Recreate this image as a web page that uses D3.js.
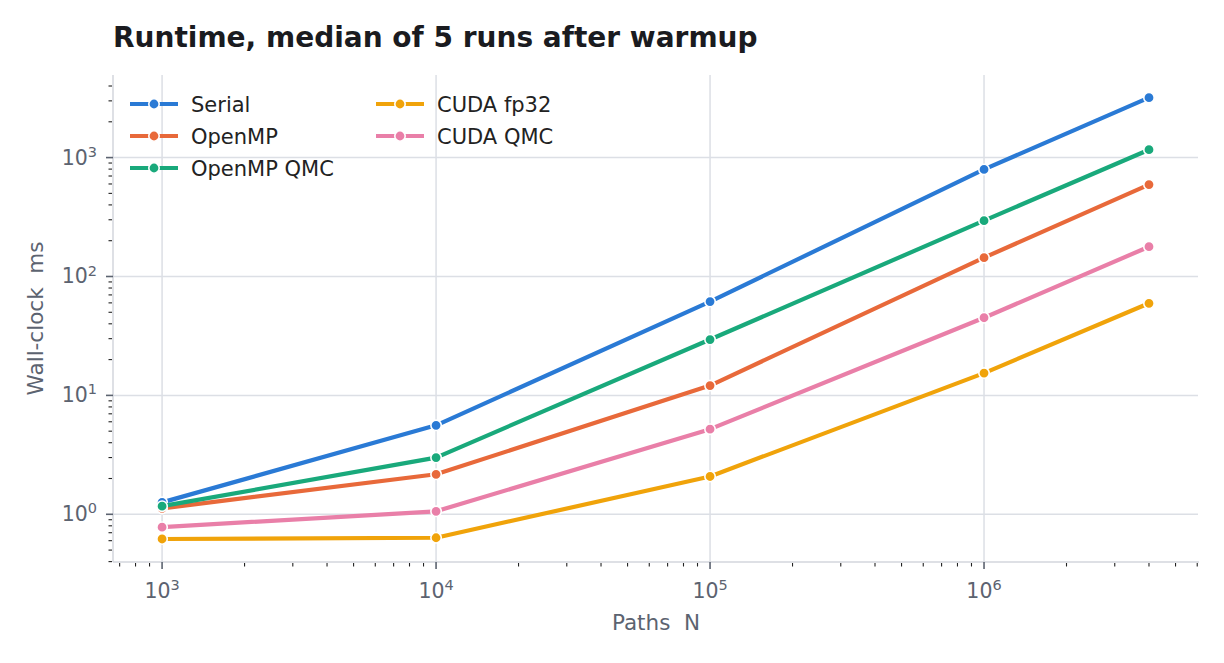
<!DOCTYPE html>
<html>
<head>
<meta charset="utf-8">
<script src="https://cdn.jsdelivr.net/npm/d3@7"></script>
<style>
  body { margin: 0; background: #fff; }
  text { font-family: "DejaVu Sans", sans-serif; }
</style>
</head>
<body>
<script>
// values (ms)
const paths = [1e3, 1e4, 1e5, 1e6, 4e6];
const seriesNames = ["Serial", "OpenMP", "OpenMP QMC", "CUDA fp32", "CUDA QMC"];
const serial = [1.26, 5.6, 61.5, 795, 3190];
const openmp = [1.12, 2.17, 12.1, 144, 593];
const openmpQmc = [1.17, 3.0, 29.5, 295, 1165];
const cudaFp32 = [0.62, 0.635, 2.08, 15.4, 59.5];
const cudaQmc = [0.78, 1.06, 5.2, 45, 178];
const colors = ["#2a7ad5", "#e8693a", "#19a97b", "#f0a30a", "#e97fa8"];
const xMajor = [1e3, 1e4, 1e5, 1e6];
const yMajor = [1, 10, 100, 1000];

const allSeries = [serial, openmp, openmpQmc, cudaFp32, cudaQmc];

const width = 1224, height = 663;
const margin = {top: 75, right: 25, bottom: 101, left: 113};

const svg = d3.select("body").append("svg")
    .attr("width", width)
    .attr("height", height);

const x = d3.scaleLog()
    .domain([662, 6.09e6])
    .range([margin.left, width - margin.right]);

const y = d3.scaleLog()
    .domain([0.397, 4950])
    .range([height - margin.bottom, margin.top]);

const gridColor = "#dcdfe5";
const tickText = "#5c6370";

// grid
svg.append("g").selectAll("line.gx")
    .data(xMajor).enter().append("line")
    .attr("x1", d => x(d)).attr("x2", d => x(d))
    .attr("y1", y.range()[1]).attr("y2", y.range()[0])
    .style("stroke", gridColor).style("stroke-width", 1.5);

svg.append("g").selectAll("line.gy")
    .data(yMajor).enter().append("line")
    .attr("x1", x.range()[0]).attr("x2", x.range()[1] - 1)
    .attr("y1", d => y(d)).attr("y2", d => y(d))
    .style("stroke", gridColor).style("stroke-width", 1.5);

// minor ticks
const minorX = [];
for (let e = 2; e <= 6; e++) for (let m = 2; m <= 9; m++) {
    const v = m * Math.pow(10, e);
    if (v >= x.domain()[0] && v <= x.domain()[1]) minorX.push(v);
}
const minorY = [];
for (let e = -1; e <= 3; e++) for (let m = 2; m <= 9; m++) {
    const v = m * Math.pow(10, e);
    if (v >= y.domain()[0] && v <= y.domain()[1]) minorY.push(v);
}

const x0 = y.range()[0];
const yAxisX = x.range()[0];

// spines
svg.append("line")
    .attr("x1", yAxisX).attr("x2", yAxisX)
    .attr("y1", margin.top).attr("y2", x0)
    .style("stroke", "#d3d6dd").style("stroke-width", 1.5);
svg.append("line")
    .attr("x1", yAxisX).attr("x2", x.range()[1])
    .attr("y1", x0).attr("y2", x0)
    .style("stroke", "#d3d6dd").style("stroke-width", 1.5);

svg.append("g").selectAll("line")
    .data(minorX).enter().append("line")
    .attr("x1", d => x(d)).attr("x2", d => x(d))
    .attr("y1", x0 + 1).attr("y2", x0 + 4.5)
    .style("stroke", "#222").style("stroke-width", 1.1);
svg.append("g").selectAll("line")
    .data(minorY).enter().append("line")
    .attr("y1", d => y(d)).attr("y2", d => y(d))
    .attr("x1", yAxisX - 1).attr("x2", yAxisX - 4.5)
    .style("stroke", "#222").style("stroke-width", 1.1);

// major ticks
svg.append("g").selectAll("line")
    .data(xMajor).enter().append("line")
    .attr("x1", d => x(d)).attr("x2", d => x(d))
    .attr("y1", x0).attr("y2", x0 + 7)
    .style("stroke", "#5c6370").style("stroke-width", 1.6);
svg.append("g").selectAll("line")
    .data(yMajor).enter().append("line")
    .attr("y1", d => y(d)).attr("y2", d => y(d))
    .attr("x1", yAxisX).attr("x2", yAxisX - 7)
    .style("stroke", "#5c6370").style("stroke-width", 1.6);

// tick labels
const exp = d => Math.round(Math.log10(d));
const xl = svg.append("g").selectAll("text")
    .data(xMajor).enter().append("text")
    .attr("x", d => x(d)).attr("y", x0 + 36)
    .attr("text-anchor", "middle")
    .style("fill", tickText).style("font-size", "20.5px");
xl.append("tspan").text("10");
xl.append("tspan").attr("dy", "-0.55em").style("font-size", "14.5px").text(d => exp(d));

const yl = svg.append("g").selectAll("text")
    .data(yMajor).enter().append("text")
    .attr("x", yAxisX - 16).attr("y", d => y(d) + 7)
    .attr("text-anchor", "end")
    .style("fill", tickText).style("font-size", "20.5px");
yl.append("tspan").text("10");
yl.append("tspan").attr("dy", "-0.55em").style("font-size", "14.5px").text(d => exp(d));

// axis labels
svg.append("text")
    .attr("x", (x.range()[0] + x.range()[1]) / 2).attr("y", 630)
    .attr("text-anchor", "middle")
    .style("fill", tickText).style("font-size", "21.5px")
    .style("white-space", "pre").attr("xml:space", "preserve")
    .text("Paths  N");

svg.append("text")
    .attr("transform", `translate(43,${(y.range()[0] + y.range()[1]) / 2}) rotate(-90)`)
    .attr("text-anchor", "middle")
    .style("fill", tickText).style("font-size", "21.5px")
    .style("white-space", "pre").attr("xml:space", "preserve")
    .text("Wall-clock  ms");

// title
svg.append("text")
    .attr("x", margin.left).attr("y", 47)
    .style("fill", "#1a1b20").style("font-size", "28px").style("font-weight", "bold")
    .text("Runtime, median of 5 runs after warmup");

// series
const line = d3.line()
    .x((d, i) => x(paths[i]))
    .y(d => y(d));

allSeries.forEach((vals, k) => {
    const g = svg.append("g");
    g.append("path")
        .datum(vals)
        .attr("d", line)
        .style("fill", "none")
        .style("stroke", colors[k])
        .style("stroke-width", 4.2)
        .style("stroke-linejoin", "round");
    g.selectAll("circle")
        .data(vals).enter().append("circle")
        .attr("cx", (d, i) => x(paths[i]))
        .attr("cy", d => y(d))
        .attr("r", 5.2)
        .style("fill", colors[k])
        .style("stroke", "#fff")
        .style("stroke-width", 1.6);
});

// legend
const legendPos = [
    {x: 130, y: 104}, {x: 130, y: 136}, {x: 130, y: 168},
    {x: 376, y: 104}, {x: 376, y: 136}
];
const lg = svg.append("g").selectAll("g")
    .data(seriesNames).enter().append("g")
    .attr("transform", (d, i) => `translate(${legendPos[i].x},${legendPos[i].y})`);
lg.append("line")
    .attr("x1", 0).attr("x2", 48).attr("y1", 0).attr("y2", 0)
    .style("stroke", (d, i) => colors[i]).style("stroke-width", 4.2);
lg.append("circle")
    .attr("cx", 24).attr("cy", 0).attr("r", 5.2)
    .style("fill", (d, i) => colors[i])
    .style("stroke", "#fff").style("stroke-width", 1.6);
lg.append("text")
    .attr("x", 61).attr("y", 7.5)
    .style("fill", "#222").style("font-size", "21px")
    .text(d => d);
</script>
</body>
</html>
